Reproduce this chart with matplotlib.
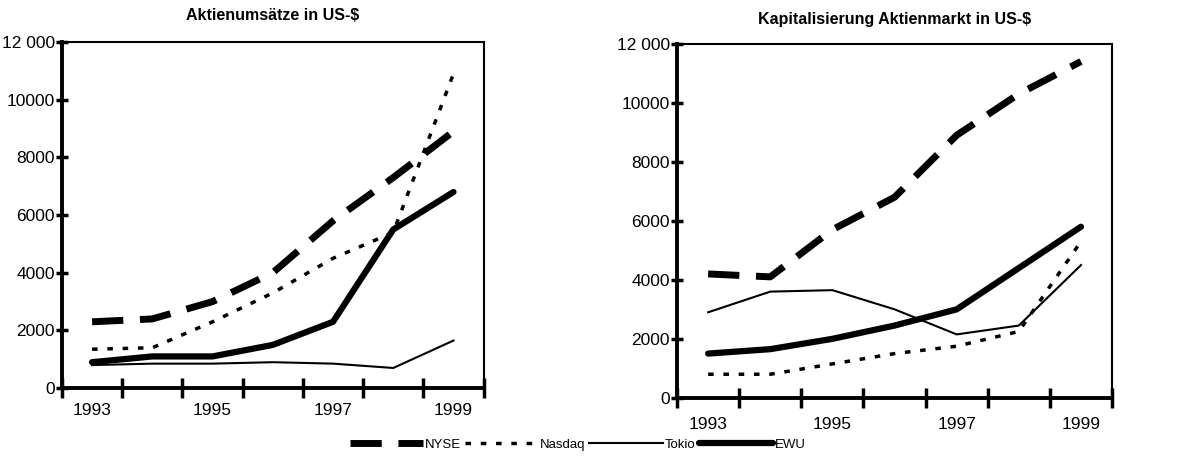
import matplotlib.pyplot as plt
from matplotlib.lines import Line2D

plt.rcParams['font.family'] = ['Liberation Sans', 'DejaVu Sans']

jahre = ['1993', '1994', '1995', '1996', '1997', '1998', '1999']

# Aktienumsätze in US-$
umsatz_nyse = [2300, 2400, 3000, 4000, 5800, 7300, 8900]
umsatz_nasdaq = [1350, 1400, 2300, 3300, 4500, 5400, 10900]
umsatz_tokio = [800, 850, 850, 900, 850, 700, 1650]
umsatz_ewu = [900, 1100, 1100, 1500, 2300, 5500, 6800]

# Kapitalisierung Aktienmarkt in US-$
kap_nyse = [4200, 4100, 5700, 6800, 8900, 10300, 11400]
kap_nasdaq = [800, 800, 1150, 1500, 1750, 2250, 5300]
kap_tokio = [2900, 3600, 3650, 3000, 2150, 2450, 4500]
kap_ewu = [1500, 1650, 2000, 2450, 3000, 4400, 5800]

stile = {
    'NYSE': dict(color='black', lw=5, linestyle=(0, (4.5, 2.4)), dash_capstyle='butt'),
    'Nasdaq': dict(color='black', lw=2.5, linestyle=(0, (1.6, 2.8)), dash_capstyle='butt'),
    'Tokio': dict(color='black', lw=1.5, linestyle='-'),
    'EWU': dict(color='black', lw=4.5, linestyle='-', solid_capstyle='round'),
}

fig = plt.figure(figsize=(12.03, 4.61), dpi=100)
ax1 = fig.add_axes([0.0515, 0.158, 0.3505, 0.751])
ax2 = fig.add_axes([0.5628, 0.137, 0.3616, 0.768])


def zeichne(ax, titel, reihen, pad, titelpad):
    x = range(len(jahre))
    for name, werte in reihen.items():
        ax.plot(x, werte, **stile[name])
    ax.set_xlim(-0.5, len(jahre) - 0.5)
    ax.set_ylim(0, 12000)
    ax.set_yticks(range(0, 12001, 2000))
    ax.set_yticklabels(['0', '2000', '4000', '6000', '8000', '10000', '12 000'])
    ax.set_xticks([i - 0.5 for i in range(len(jahre) + 1)])
    ax.set_xticklabels([])
    ax.set_xticks([0, 2, 4, 6], minor=True)
    ax.set_xticklabels([jahre[i] for i in [0, 2, 4, 6]], minor=True)
    ax.tick_params(axis='x', which='major', direction='inout', length=14, width=2.5)
    ax.tick_params(axis='x', which='minor', length=0, pad=pad, labelsize=12.5)
    ax.tick_params(axis='y', direction='inout', length=8, width=2.5, labelsize=12.5, pad=1)
    for s in ['left', 'bottom']:
        ax.spines[s].set_linewidth(2.8)
    for s in ['top', 'right']:
        ax.spines[s].set_linewidth(1.5)
    ax.set_title(titel, fontsize=11.5, fontweight='bold', pad=titelpad)


zeichne(ax1, 'Aktienumsätze in US-$',
        {'NYSE': umsatz_nyse, 'Nasdaq': umsatz_nasdaq, 'Tokio': umsatz_tokio, 'EWU': umsatz_ewu}, 11, 16)
zeichne(ax2, 'Kapitalisierung Aktienmarkt in US-$',
        {'NYSE': kap_nyse, 'Nasdaq': kap_nasdaq, 'Tokio': kap_tokio, 'EWU': kap_ewu}, 14, 14)

griffe = [Line2D([], [], **stile[n]) for n in stile]
fig.legend(griffe, list(stile), loc='center', bbox_to_anchor=(0.48, 0.035), ncol=4,
           frameon=False, fontsize=9.5, handlelength=5.6, handletextpad=0.1, columnspacing=0.3)

plt.savefig('out.png', dpi=100)
